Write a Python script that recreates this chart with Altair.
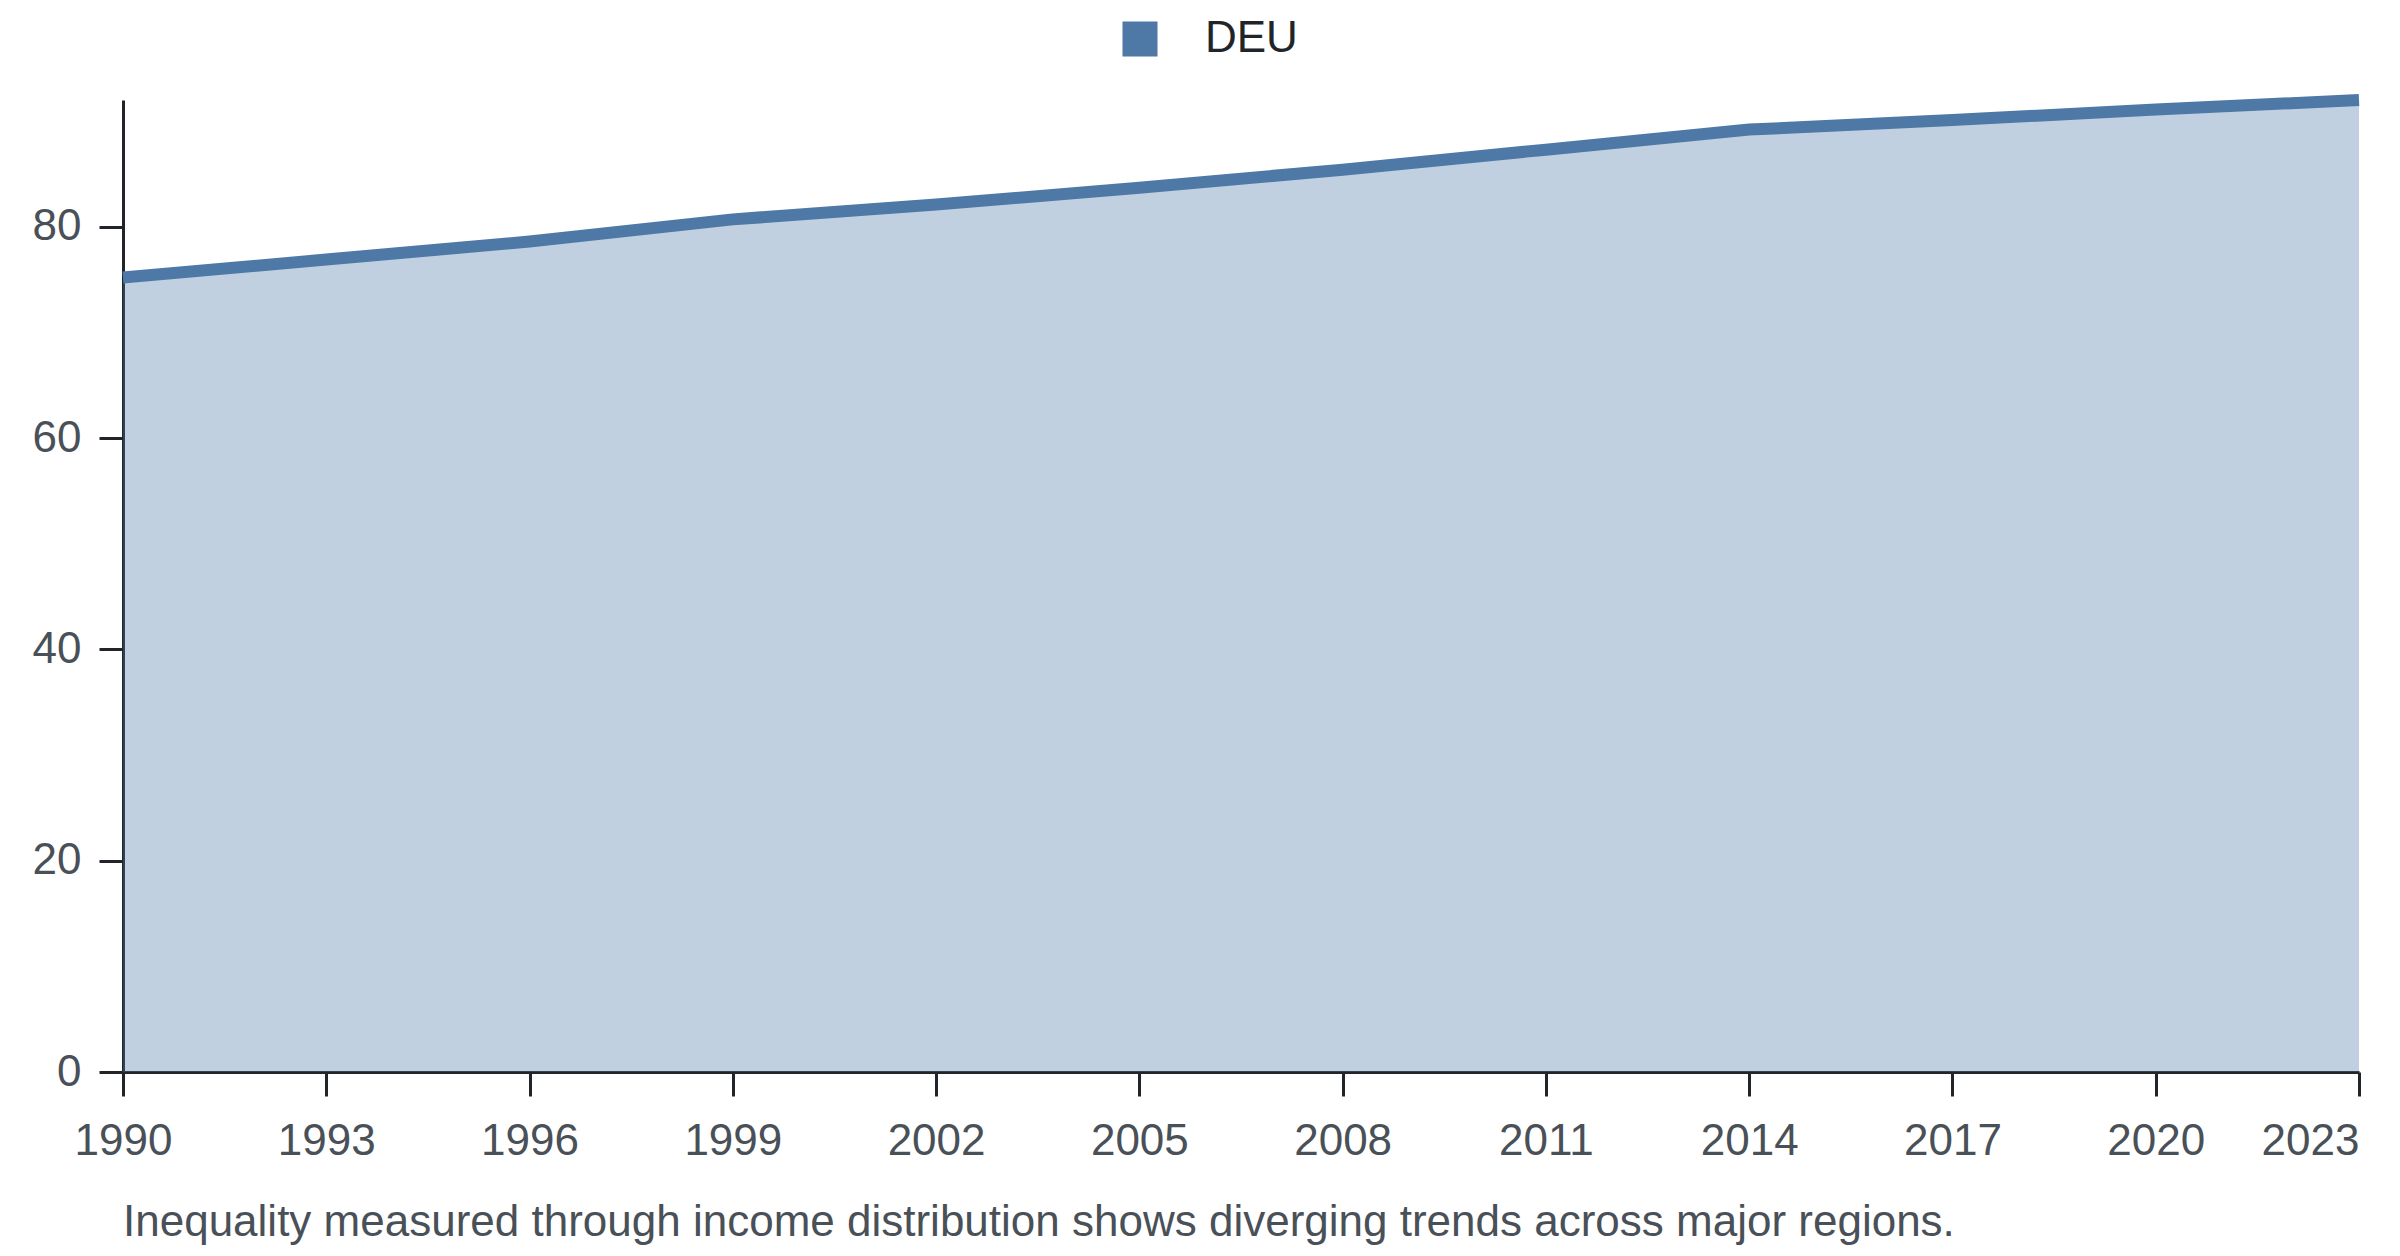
import altair as alt
import pandas as pd

years = [1990, 1993, 1996, 1999, 2002, 2005, 2008, 2011, 2014, 2017, 2020, 2023]
deu_values = [75.2, 76.9, 78.6, 80.7, 82.1, 83.7, 85.4, 87.3, 89.2, 90.1, 91.1, 92.0]
country = ["DEU"] * len(years)
y_ticks = [0, 20, 40, 60, 80]
caption = "Inequality measured through income distribution shows diverging trends across major regions."

df = pd.DataFrame({"year": years, "value": deu_values, "country": country})

FONT = "Liberation Sans, Arial, Helvetica, sans-serif"
BLUE = "#4e79a7"
DARK = "#212529"
GRAY = "#495057"
FS = 44

chart = alt.Chart(df).mark_area(
    fillOpacity=0.35,
    line={"strokeWidth": 12, "strokeCap": "butt", "strokeJoin": "miter"},
).encode(
    x=alt.X(
        "year:Q",
        scale=alt.Scale(domain=[min(years), max(years)], nice=False, zero=False),
        axis=alt.Axis(
            values=years,
            format="d",
            title=None,
            labelAlign=alt.expr("datum.value == 2023 ? 'right' : 'center'"),
            labelPadding=23,
        ),
    ),
    y=alt.Y(
        "value:Q",
        scale=alt.Scale(domain=[0, max(deu_values)], nice=False),
        axis=alt.Axis(values=y_ticks, title=None, labelPadding=18),
    ),
    color=alt.Color(
        "country:N",
        scale=alt.Scale(range=[BLUE]),
        legend=alt.Legend(
            title=None,
            orient="none",
            direction="horizontal",
            legendX=995,
            legendY=-83,
            padding=0,
            symbolType="square",
            symbolSize=1225,
            symbolOpacity=1,
            symbolFillColor=BLUE,
            symbolStrokeWidth=0,
            labelFontSize=FS,
            labelFont=FONT,
            labelColor=DARK,
            labelOffset=43,
        ),
    ),
).properties(
    width=2236,
    height=972,
    padding={"left": 115, "top": 92, "right": 25, "bottom": 176},
    autosize=alt.AutoSizeParams(type="none"),
    title=alt.TitleParams(
        text=caption,
        orient="bottom",
        anchor="start",
        frame="group",
        fontSize=FS,
        font=FONT,
        fontWeight="normal",
        color=GRAY,
        offset=38,
    ),
).configure_view(
    stroke=None
).configure_axis(
    grid=False,
    domainColor=DARK,
    domainWidth=3,
    tickColor=DARK,
    tickWidth=3,
    tickSize=24,
    labelFontSize=FS,
    labelFont=FONT,
    labelColor=GRAY,
)

chart.save("out.html", embed_options={"renderer": "svg", "actions": False})
